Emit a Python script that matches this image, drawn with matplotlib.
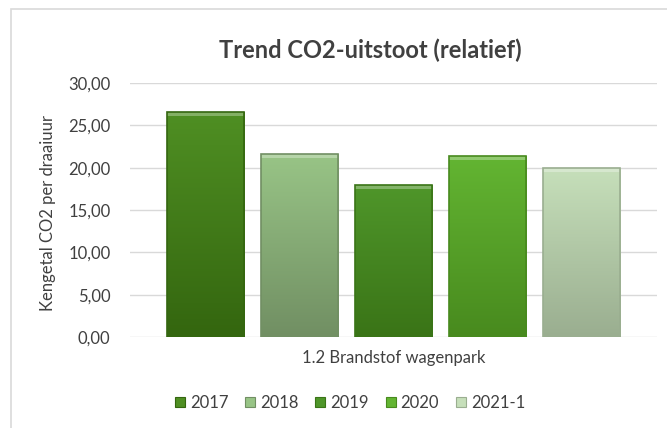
import matplotlib
matplotlib.use("Agg")
import matplotlib.pyplot as plt
import numpy as np
from matplotlib.patches import Rectangle
from matplotlib.colors import to_rgb

series = ["2017", "2018", "2019", "2020", "2021-1"]
values = [26.6, 21.6, 18.0, 21.4, 19.95]
category = "1.2 Brandstof wagenpark"
top_colors = ["#4f8f23", "#98c486", "#4f962a", "#63b532", "#c6dfba"]
bot_colors = ["#34660f", "#718f63", "#3a7417", "#488a1e", "#9aae90"]

plt.rcParams['font.family'] = ['Lato', 'DejaVu Sans']
fig = plt.figure(figsize=(6.67, 4.28), dpi=100)
ax = fig.add_axes([130/667, 1-337/428, (657-130)/667, (337-83)/428])

# chart border
fig.patches.append(Rectangle((11/667, -0.1), 1.2, 1 - 9/428 + 0.1, transform=fig.transFigure,
                             fill=False, edgecolor="#d9d9d9", linewidth=1.2))

x = np.arange(len(series))
width = 0.82
bars = ax.bar(x, values, width=width, color=top_colors, edgecolor="none", zorder=3)
for b, tc, bc, s in zip(bars, top_colors, bot_colors, series):
    b.set_label(s)
    grad = np.linspace(0, 1, 100)[:, None]
    c1, c2 = np.array(to_rgb(tc)), np.array(to_rgb(bc))
    img = c1[None, None, :] * (1 - grad[..., None]) + c2[None, None, :] * grad[..., None]
    img = np.repeat(img, 2, axis=1)
    x0, w, h = b.get_x(), b.get_width(), b.get_height()
    im = ax.imshow(img, extent=(x0, x0 + w, 0, h), aspect='auto', zorder=3.5, origin='upper')
    im.set_clip_path(b)
    # bevel highlight at top and darker edges
    ax.add_patch(Rectangle((x0, h - 0.5), w, 0.5, facecolor="white", alpha=0.3, edgecolor="none", zorder=4))
    ax.add_patch(Rectangle((x0, 0), w, h, facecolor="none", edgecolor=bc, linewidth=1.2, zorder=4.5))

ax.set_xlim(-0.8, 4.8)
ax.set_ylim(0, 30)
ax.set_yticks(np.arange(0, 31, 5))
ax.set_yticklabels([f"{v:.2f}".replace(".", ",") for v in np.arange(0, 31, 5)], fontsize=12, color="#404040")
ax.set_xticks([2])
ax.set_xticklabels([category], fontsize=12, color="#404040")
ax.tick_params(length=0, axis='x', pad=9)
ax.tick_params(length=0, axis='y', pad=14)
ax.grid(axis='y', color="#d9d9d9", linewidth=1, zorder=0)
for sp in ax.spines.values():
    sp.set_visible(False)
ax.set_axisbelow(True)

ax.set_ylabel("Kengetal CO2 per draaiuur", fontsize=12, color="#404040")
ax.yaxis.set_label_coords(-(130-56)/527, 0.49)

fig.text(370/667, 1-50/428, "Trend CO2-uitstoot (relatief)", ha="center", va="center",
         fontsize=17, fontweight="bold", color="#404040")

handles = [Rectangle((0, 0), 1, 1, facecolor=c, edgecolor=bc, linewidth=0.8) for c, bc in zip(top_colors, bot_colors)]
leg = fig.legend(handles, series, loc="center", bbox_to_anchor=(350/667, 1-403/428), ncol=5,
                 frameon=False, fontsize=12, handlelength=0.6, handleheight=0.6,
                 handletextpad=0.3, columnspacing=1.0, labelcolor="#404040")

fig.savefig("out.png", dpi=100, facecolor="white")
